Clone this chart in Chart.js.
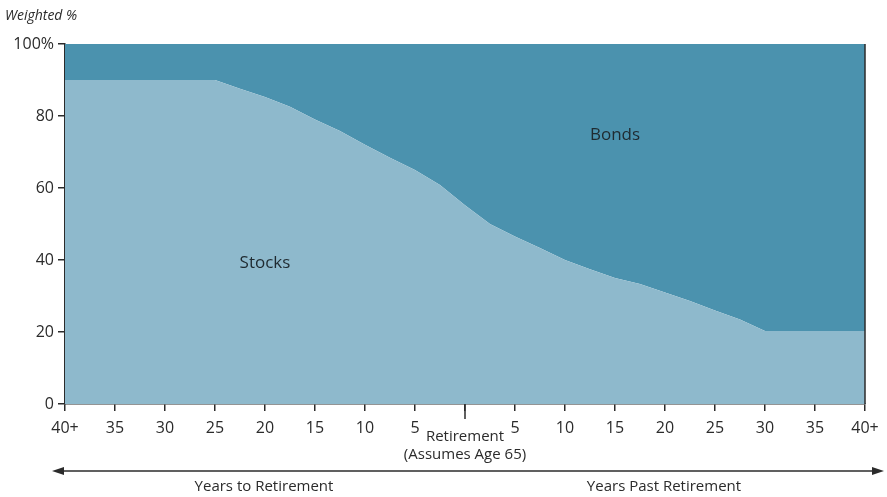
<!DOCTYPE html>
<html lang="en">
<head>
    <meta charset="UTF-8">
    <title>Weighted allocation glide path</title>
    <script src="https://cdn.jsdelivr.net/npm/chart.js"></script>
    <style>
        html, body { margin: 0; padding: 0; background: #fff; }
        #wrap { width: 887px; height: 497px; }
    </style>
</head>
<body>
    <div id="wrap">
        <canvas id="glideChart" width="887" height="497"></canvas>
    </div>
    <script>
        // years relative to retirement (negative = before)
        const years = [-40, -25, -22.5, -20, -17.5, -15, -12.5, -10, -7.5, -5, -2.5, 0,
                       2.5, 5, 7.5, 10, 12.5, 15, 17.5, 20, 22.5, 25, 27.5, 30, 40];
        const stocks = [90, 90, 87.6, 85.3, 82.6, 79, 75.8, 72, 68.4, 65, 60.8, 55.2,
                        50, 46.5, 43.3, 40, 37.4, 35, 33.3, 31, 28.6, 26, 23.5, 20.3, 20.3];
        const bonds = [10, 10, 12.4, 14.7, 17.4, 21, 24.2, 28, 31.6, 35, 39.2, 44.8,
                       50, 53.5, 56.7, 60, 62.6, 65, 66.7, 69, 71.4, 74, 76.5, 79.7, 79.7];
        const yTicks = [0, 20, 40, 60, 80, 100];

        const font = '"Open Sans", "DejaVu Sans", sans-serif';
        const ink = '#2b2b2b';

        // extra drawing: axis notes, arrow line, labels inside areas
        const extras = {
            id: 'extras',
            afterDraw(chart) {
                const c = chart.ctx;
                const xs = chart.scales.x;
                const ys = chart.scales.y;
                const area = chart.chartArea;
                c.save();
                c.strokeStyle = ink;
                c.lineWidth = 1.5;
                // right border
                c.beginPath();
                c.moveTo(area.right, area.top);
                c.lineTo(area.right, area.bottom);
                c.stroke();
                // long tick at retirement
                const x0 = xs.getPixelForValue(0);
                c.beginPath();
                c.moveTo(x0, area.bottom);
                c.lineTo(x0, area.bottom + 15);
                c.stroke();

                c.fillStyle = ink;
                c.textAlign = 'center';
                c.textBaseline = 'middle';
                c.font = '15px ' + font;
                c.fillText('Retirement', x0, 437);
                c.fillText('(Assumes Age 65)', x0, 455);

                // arrow line
                const y = 471;
                c.beginPath();
                c.moveTo(60, y);
                c.lineTo(876, y);
                c.stroke();
                c.beginPath();
                c.moveTo(52, y); c.lineTo(64, y - 4); c.lineTo(64, y + 4); c.closePath();
                c.fill();
                c.beginPath();
                c.moveTo(884, y); c.lineTo(872, y - 4); c.lineTo(872, y + 4); c.closePath();
                c.fill();

                c.fillText('Years to Retirement', 264, 487);
                c.fillText('Years Past Retirement', 664, 487);

                // y axis title
                c.textAlign = 'left';
                c.font = 'italic 14px ' + font;
                c.fillText('Weighted %', 5, 16);

                // area labels
                c.textAlign = 'center';
                c.font = '17px ' + font;
                c.fillStyle = '#1f2a30';
                c.fillText('Bonds', xs.getPixelForValue(15), ys.getPixelForValue(74.6));
                c.fillText('Stocks', xs.getPixelForValue(-20), ys.getPixelForValue(39));
                c.restore();
            }
        };

        const ctx = document.getElementById('glideChart').getContext('2d');
        new Chart(ctx, {
            type: 'line',
            data: {
                datasets: [
                    {
                        label: 'Stocks',
                        data: years.map((x, i) => ({ x: x, y: stocks[i] })),
                        backgroundColor: '#8eb9cc',
                        borderWidth: 0,
                        pointRadius: 0,
                        fill: 'origin',
                        tension: 0
                    },
                    {
                        label: 'Bonds',
                        data: years.map((x, i) => ({ x: x, y: bonds[i] })),
                        backgroundColor: '#4b92ae',
                        borderWidth: 0,
                        pointRadius: 0,
                        fill: '-1',
                        tension: 0
                    }
                ]
            },
            options: {
                responsive: false,
                animation: false,
                layout: { padding: { top: 44, right: 22, left: 0, bottom: 0 } },
                plugins: {
                    legend: { display: false },
                    tooltip: { enabled: false }
                },
                scales: {
                    x: {
                        type: 'linear',
                        min: -40,
                        max: 40,
                        afterFit: s => { s.height = 93; },
                        border: { color: ink, width: 1.5 },
                        grid: { drawOnChartArea: false, tickLength: 7, tickColor: ink, lineWidth: 1.5 },
                        ticks: {
                            stepSize: 5,
                            maxRotation: 0,
                            autoSkip: false,
                            padding: 8,
                            color: ink,
                            font: { family: font, size: 16 },
                            callback: v => v === 0 ? '' : (Math.abs(v) === 40 ? '40+' : String(Math.abs(v)))
                        }
                    },
                    y: {
                        stacked: true,
                        min: 0,
                        max: 100,
                        afterFit: s => { s.width = 65; },
                        afterBuildTicks: s => { s.ticks = yTicks.map(v => ({ value: v })); },
                        border: { color: ink, width: 1.5 },
                        grid: { drawOnChartArea: false, tickLength: 7, tickColor: ink, lineWidth: 1.5 },
                        ticks: {
                            padding: 4,
                            color: ink,
                            font: { family: font, size: 16 },
                            callback: v => v === 100 ? '100%' : String(v)
                        }
                    }
                }
            },
            plugins: [extras]
        });
    </script>
</body>
</html>
